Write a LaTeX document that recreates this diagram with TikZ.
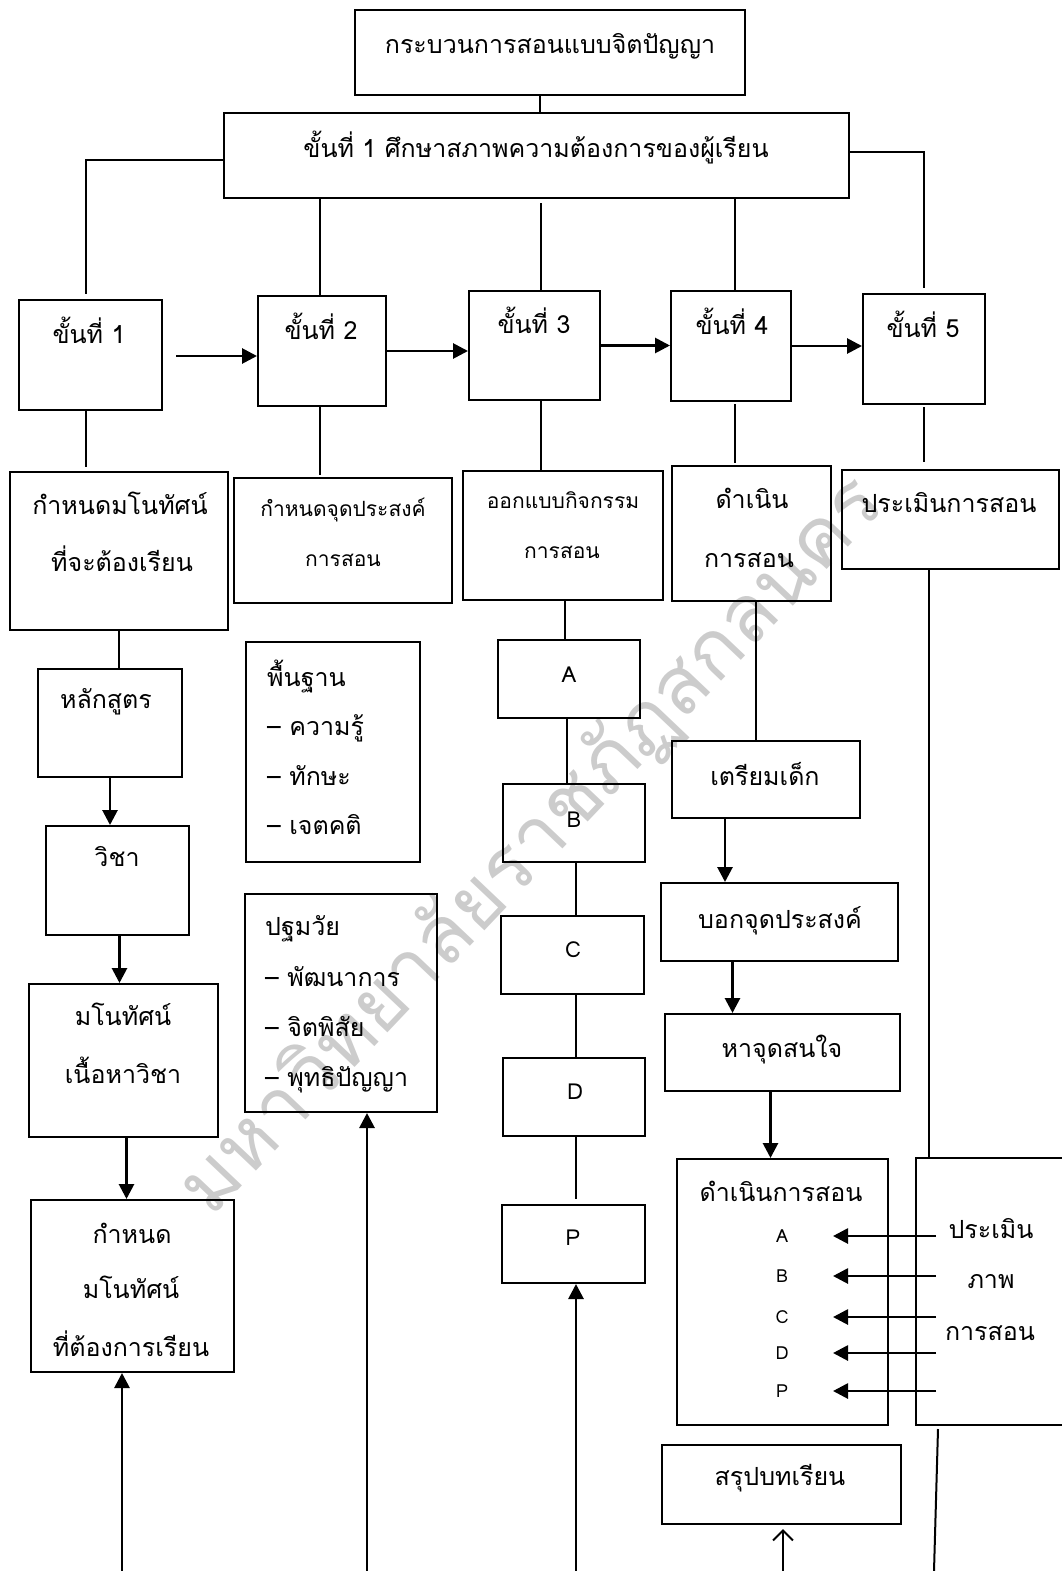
\documentclass[tikz,border=0pt]{standalone}
\usepackage{fontspec}
\setmainfont{Loma}[Script=Thai]
\usetikzlibrary{arrows.meta, fit, calc, positioning}

\tikzset{
  box/.style={draw, line width=2pt, inner sep=0pt},
  txt/.style={font=\fontsize{25}{30}\selectfont, inner sep=0pt, anchor=base},
  smalltxt/.style={font=\fontsize{21}{24}\selectfont, inner sep=0pt, anchor=base},
  lettertxt/.style={font=\fontsize{22}{26}\selectfont, inner sep=0pt},
  tinytxt/.style={font=\fontsize{18}{20}\selectfont, inner sep=0pt},
  conn/.style={line width=2pt},
  arr/.style={line width=2.8pt, -{Triangle[length=15pt,width=15pt]}},
  openarr/.style={line width=2pt, -{Straight Barb[length=10pt,width=20pt]}},
  watermark/.style={font=\fontsize{80}{90}\selectfont, text=black!20, rotate=46.5}
}
\newcommand{\rbox}[3]{\node[box, fit={(#2) (#3)}] (#1) {};}

\begin{document}
\begin{tikzpicture}[x=1pt, y=-1pt]
  \useasboundingbox (0,0) rectangle (1062,1571);
  % watermark behind everything
  \node[watermark] (wm) at (532,846) {มหาวิทยาลัยราชภัฏสกลนคร};

  % top boxes
  \rbox{title}{355,10}{745,95}
  \rbox{stage}{224,113}{849,198}
  \node[txt] (titlet) at (550,54) {กระบวนการสอนแบบจิตปัญญา};
  \node[txt] (staget) at (536,157) {ขั้นที่ 1 ศึกษาสภาพความต้องการของผู้เรียน};

  % step boxes
  \rbox{s1}{19,300}{162,410}
  \rbox{s2}{258,296}{386,406}
  \rbox{s3}{469,291}{600,400}
  \rbox{s4}{671,291}{791,401}
  \rbox{s5}{863,294}{985,404}
  \node[txt] (s1t) at (89,343) {ขั้นที่ 1};
  \node[txt] (s2t) at (321,339) {ขั้นที่ 2};
  \node[txt] (s3t) at (534,333) {ขั้นที่ 3};
  \node[txt] (s4t) at (732,334) {ขั้นที่ 4};
  \node[txt] (s5t) at (923,337) {ขั้นที่ 5};

  % second row
  \rbox{b1}{10,472}{228,630}
  \rbox{b2}{234,478}{452,603}
  \rbox{b3}{463,471}{663,600}
  \rbox{b4}{672,466}{831,601}
  \rbox{b5}{842,470}{1059,569}
  \node[txt] (b1ta) at (120,514) {กำหนดมโนทัศน์};
  \node[txt] (b1tb) at (122,571) {ที่จะต้องเรียน};
  \node[smalltxt] (b2ta) at (343,516) {กำหนดจุดประสงค์};
  \node[smalltxt] (b2tb) at (343,566) {การสอน};
  \node[smalltxt] (b3ta) at (563,508) {ออกแบบกิจกรรม};
  \node[smalltxt] (b3tb) at (562,558) {การสอน};
  \node[txt] (b4ta) at (752,508) {ดำเนิน};
  \node[txt] (b4tb) at (749,567) {การสอน};
  \node[txt] (b5t) at (949,512) {ประเมินการสอน};

  % column 1
  \rbox{hl}{38,669}{182,777}
  \rbox{wc}{46,826}{189,935}
  \rbox{mn}{29,984}{218,1137}
  \rbox{gm}{31,1200}{234,1372}
  \node[txt] (hlt) at (106,708) {หลักสูตร};
  \node[txt] (wct) at (117,866) {วิชา};
  \node[txt] (mnta) at (123,1025) {มโนทัศน์};
  \node[txt] (mntb) at (123,1083) {เนื้อหาวิชา};
  \node[txt] (gmta) at (132,1243) {กำหนด};
  \node[txt] (gmtb) at (131,1298) {มโนทัศน์};
  \node[txt] (gmtc) at (131,1356) {ที่ต้องการเรียน};

  % column 2
  \rbox{pf}{246,642}{420,862}
  \rbox{pt}{245,894}{437,1112}
  \node[txt, anchor=base west] (pf1) at (267,686) {พื้นฐาน};
  \node[txt, anchor=base west] (pf2) at (267,735) {– ความรู้};
  \node[txt, anchor=base west] (pf3) at (267,785) {– ทักษะ};
  \node[txt, anchor=base west] (pf4) at (267,834) {– เจตคติ};
  \node[txt, anchor=base west] (pt1) at (265,935) {ปฐมวัย};
  \node[txt, anchor=base west] (pt2) at (265,986) {– พัฒนาการ};
  \node[txt, anchor=base west] (pt3) at (265,1036) {– จิตพิสัย};
  \node[txt, anchor=base west] (pt4) at (265,1086) {– พุทธิปัญญา};

  % column 3
  \rbox{ba}{498,640}{640,718}
  \rbox{bb}{503,784}{645,862}
  \rbox{bc}{501,916}{644,994}
  \rbox{bd}{503,1058}{645,1136}
  \rbox{bp}{502,1205}{645,1283}
  \node[lettertxt] (bat) at (569,675) {A};
  \node[lettertxt] (bbt) at (574,820) {B};
  \node[lettertxt] (bct) at (573,950) {C};
  \node[lettertxt] (bdt) at (575,1092) {D};
  \node[lettertxt] (bpt) at (573,1238) {P};

  % column 4
  \rbox{tr}{672,741}{860,818}
  \rbox{bk}{661,883}{898,961}
  \rbox{hj}{665,1014}{900,1091}
  \rbox{dn}{677,1159}{888,1425}
  \rbox{sp}{662,1445}{901,1524}
  \node[txt] (trt) at (765,785) {เตรียมเด็ก};
  \node[txt] (bkt) at (780,928) {บอกจุดประสงค์};
  \node[txt] (hjt) at (782,1057) {หาจุดสนใจ};
  \node[txt] (dnt) at (781,1201) {ดำเนินการสอน};
  \node[txt] (spt) at (780,1485) {สรุปบทเรียน};

  % column 5
  \rbox{ev}{916,1158}{1070,1425}
  \node[txt] (eva) at (991,1238) {ประเมิน};
  \node[txt] (evb) at (991,1288) {ภาพ};
  \node[txt] (evc) at (990,1340) {การสอน};

  % free ends at the bottom edge
  \coordinate (bot1) at (122,1571);
  \coordinate (bot2) at (367,1571);
  \coordinate (bot3) at (576,1571);
  \coordinate (bot4) at (783,1571);
  \coordinate (bot5) at (934,1571);

  % connectors from the top
  \draw[conn] (title.south -| 540,0) -- (stage.north -| 540,0);
  \draw[conn] ($(stage.west)+(0,4)$) -| ($(s1.north)+(-5,-5)$);
  \draw[conn] ($(stage.east)+(0,-4)$) -| ($(s5.north)+(0,-5)$);
  \draw[conn] ($(s2.north |- stage.south)+(-2,0)$) -- ($(s2.north)+(-2,0)$);
  \draw[conn] ($(s3.north |- stage.south)+(6,4)$) -- ($(s3.north)+(6,0)$);
  \draw[conn] ($(s4.north |- stage.south)+(4,0)$) -- ($(s4.north)+(4,0)$);

  % steps in a row
  \draw[arr] ($(s1.east)+(13,1)$) -- ($(s1.east -| s2.west)+(0,1)$);
  \draw[arr] (s2.east) -- (s2.east -| s3.west);
  \draw[arr] (s3.east) -- (s3.east -| s4.west);
  \draw[arr] (s4.east) -- (s4.east -| s5.west);

  % steps down to their tasks
  \draw[conn] ($(s1.south)+(-5,0)$) -- ($(s1.south |- b1.north)+(-5,-4)$);
  \draw[conn] ($(s2.south)+(-2,0)$) -- ($(s2.south |- b2.north)+(-2,-2)$);
  \draw[conn] ($(s3.south)+(6,0)$) -- ($(s3.south |- b3.north)+(6,0)$);
  \draw[conn] ($(s4.south)+(4,2)$) -- ($(s4.south |- b4.north)+(4,-2)$);
  \draw[conn] ($(s5.south)+(0,2)$) -- ($(s5.south |- b5.north)+(0,-7)$);

  % column 1
  \draw[conn] (b1.south) -- (b1.south |- hl.north);
  \draw[arr] (hl.south) -- (hl.south |- wc.north);
  \draw[arr] ($(wc.south)+(2,0)$) -- ($(wc.south |- mn.north)+(2,0)$);
  \draw[arr] ($(mn.south)+(3,0)$) -- ($(mn.south |- gm.north)+(3,0)$);
  \draw[arr] (bot1) -- (bot1 |- gm.south);

  % column 2
  \draw[arr] (bot2) -- (bot2 |- pt.south);

  % column 3
  \draw[conn] ($(b3.south)+(2,0)$) -- ($(b3.south |- ba.north)+(2,0)$);
  \draw[conn] ($(ba.south)+(-2,0)$) -- ($(ba.south |- bb.north)+(-2,0)$);
  \draw[conn] ($(bb.south)+(2,0)$) -- ($(bb.south |- bc.north)+(2,0)$);
  \draw[conn] ($(bc.south)+(3,0)$) -- ($(bc.south |- bd.north)+(3,0)$);
  \draw[conn] ($(bd.south)+(2,0)$) -- ($(bd.south |- bp.north)+(2,-5)$);
  \draw[arr] (bot3) -- (bot3 |- bp.south);

  % column 4
  \draw[conn] ($(b4.south)+(4,0)$) -- ($(b4.south |- tr.north)+(4,0)$);
  \draw[arr] ($(tr.south)+(-41,0)$) -- ($(tr.south |- bk.north)+(-41,0)$);
  \draw[arr] ($(bk.south)+(-47,0)$) -- ($(bk.south |- hj.north)+(-47,0)$);
  \draw[arr] ($(hj.south)+(-12,0)$) -- ($(hj.south |- dn.north)+(-12,0)$);
  \draw[openarr] (bot4) -- ($(bot4 |- sp.south)+(0,4)$);

  % teaching steps fed by the evaluation
  \foreach \l/\y in {A/1236, B/1276, C/1317, D/1353, P/1391} {
    \node[tinytxt] (l\l) at (782,\y) {\l};
    \draw[arr] ($(ev.west |- l\l)+(21,0)$) -- ($(l\l)+(51,0)$);
  }

  % column 5
  \draw[conn] ($(b5.south)+(-22,0)$) -- ($(b5.south |- ev.north)+(-22,0)$);
  \draw[conn] ($(ev.south)+(-55,3)$) -- (bot5);
\end{tikzpicture}
\end{document}
